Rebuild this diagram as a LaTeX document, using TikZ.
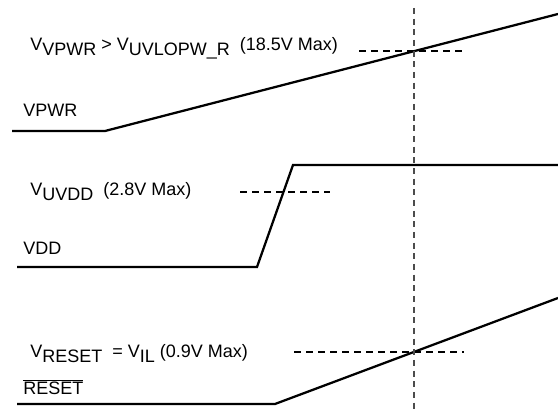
\documentclass[tikz,border=0pt]{standalone}
\usepackage{fontspec}
\setmainfont{Liberation Sans}
\newcommand{\sigsub}[1]{\raisebox{-0.25em}{#1}}

\begin{document}
\begin{tikzpicture}[x=0.75pt,y=-0.75pt,
		signal/.style={line width=1.7pt, line join=miter},
		level/.style={line width=0.8pt, dash pattern=on 5pt off 4pt},
		marker/.style={draw=black!70, line width=1.5pt, dash pattern=on 4.5pt off 3.5pt},
		txt/.style={anchor=base west, inner sep=0pt, font=\fontsize{13.5}{16}\selectfont}]
		\useasboundingbox (0,0) rectangle (558,413);

		%VPWR
		\coordinate (vpwrA) at (12,131);
		\coordinate (vpwrB) at (105,131);
		\coordinate (vpwrC) at (558,14);
		\draw [signal] (vpwrA)--(vpwrB)--(vpwrC);
		%VDD
		\coordinate (vddA) at (17,267);
		\coordinate (vddB) at (257,267);
		\coordinate (vddC) at (293,165);
		\coordinate (vddD) at (558,165);
		\draw [signal] (vddA)--(vddB)--(vddC)--(vddD);
		%RESET
		\coordinate (rstA) at (17,404);
		\coordinate (rstB) at (275,404);
		\coordinate (rstC) at (558,298);
		\draw [signal] (rstA)--(rstB)--(rstC);

		%Umbrales
		\coordinate (thA) at (359,51);
		\coordinate (thB) at (464,51);
		\coordinate (thC) at (240,192);
		\coordinate (thD) at (330,192);
		\coordinate (thE) at (294,352);
		\coordinate (thF) at (464,352);
		\draw [level] (thA)--(thB);
		\draw [level] (thC)--(thD);
		\draw [level] (thE)--(thF);
		%Marcador
		\coordinate (mkTop) at (414,8);
		\coordinate (mkBot) at (414,413);
		\draw [marker] (mkTop)--(mkBot);

		\node [txt] (lvpwr) at (30,51) {V\sigsub{VPWR} > V\sigsub{UVLOPW\_R}~~(18.5V Max)};
		\node [txt] (nvpwr) at (23,117) {VPWR};
		\node [txt] (lvdd) at (30,196) {V\sigsub{UVDD}~~(2.8V Max)};
		\node [txt] (nvdd) at (23,255) {VDD};
		\node [txt] (lrst) at (30,358) {V\sigsub{RESET}~~= V\sigsub{IL} (0.9V Max)};
		\node [txt] (nrst) at (23,395) {$\overline{\mbox{RESET}}$};
	\end{tikzpicture}
\end{document}
